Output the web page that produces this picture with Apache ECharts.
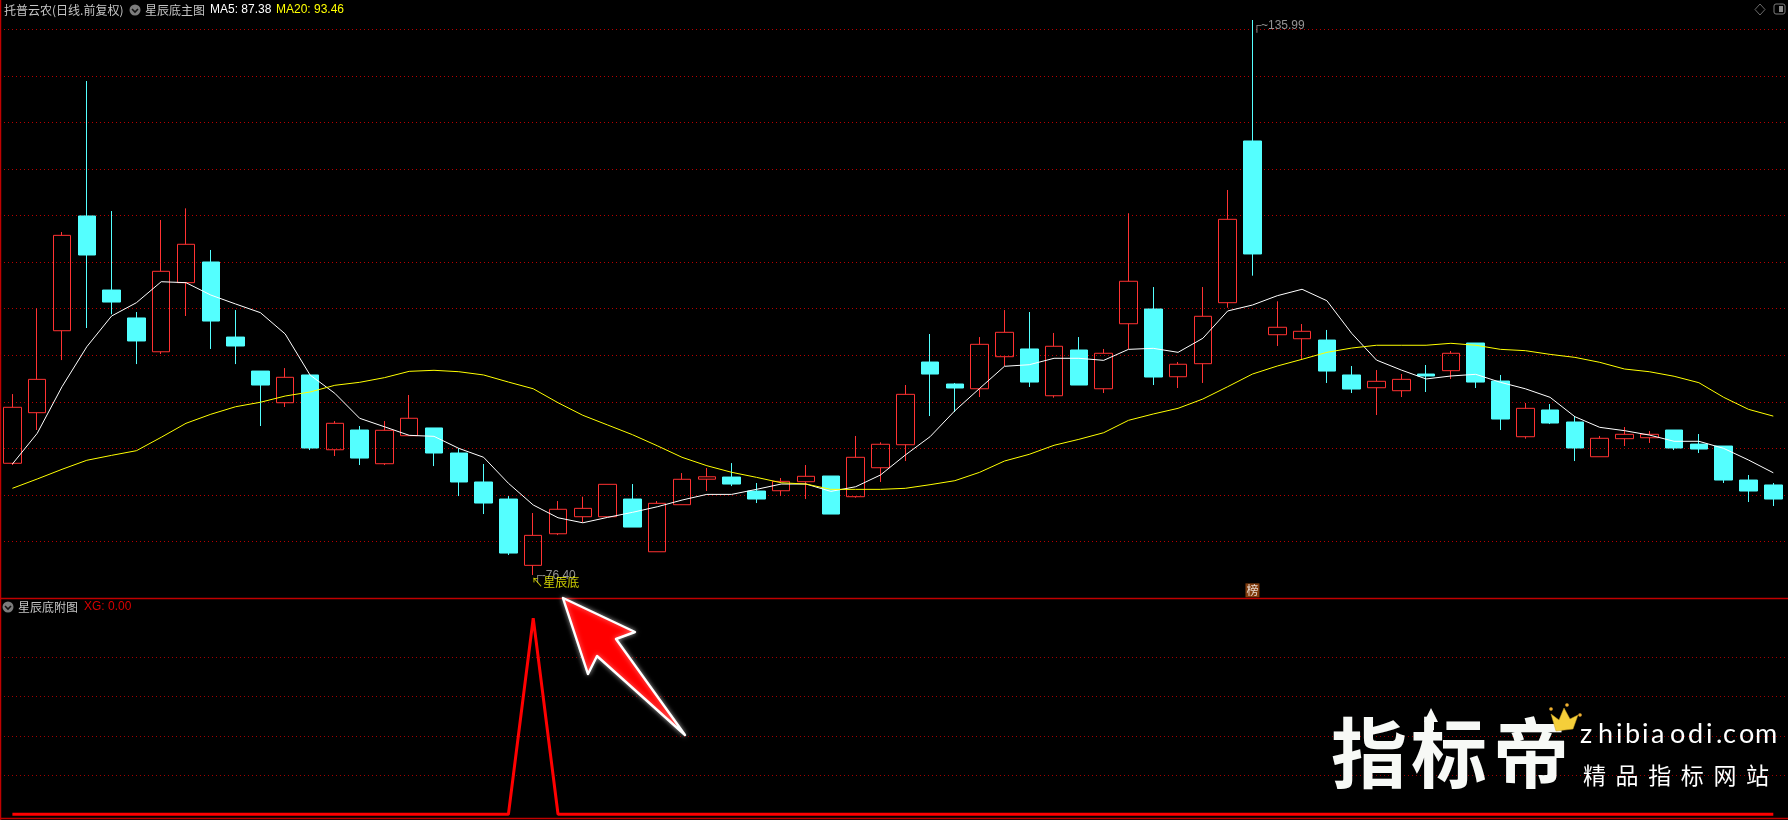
<!DOCTYPE html>
<html><head><meta charset="utf-8">
<script src="https://cdn.jsdelivr.net/npm/echarts@6/dist/echarts.min.js"></script>
<style>html,body{margin:0;padding:0;background:#000;overflow:hidden}#c{width:1788px;height:820px}</style>
</head><body><div id="c"></div>
<script>
const opens=[88.40,93.83,102.63,114.95,107.00,104.00,100.37,107.79,110.01,101.95,
98.30,94.90,97.88,89.85,91.97,88.35,91.36,92.19,89.50,86.39,
84.56,77.44,80.83,82.66,82.66,84.56,78.90,83.95,86.69,86.92,
85.42,85.45,86.42,87.03,84.81,87.92,90.39,99.27,96.91,96.40,
99.84,100.67,95.65,100.56,96.40,103.38,104.96,97.69,99.09,105.64,
123.00,102.20,101.77,101.63,97.88,96.51,96.19,97.98,98.34,101.31,
97.23,91.25,94.12,92.83,89.10,91.04,91.14,91.97,90.46,90.25,
86.60,86.07];
const closes=[94.41,97.41,112.87,110.76,105.71,101.53,109.01,111.91,103.67,100.99,
96.80,97.63,90.04,92.69,88.96,91.94,93.23,89.50,86.39,84.13,
78.76,80.66,83.46,83.56,86.14,81.55,84.10,86.68,86.95,86.17,
84.56,86.46,87.00,82.95,89.04,90.44,95.80,97.98,96.48,101.17,
102.46,97.12,100.96,96.80,100.21,107.94,97.66,99.03,104.18,114.59,
110.87,103.00,102.57,98.30,96.37,97.20,97.41,97.77,100.21,97.12,
93.15,94.30,92.72,90.04,91.08,91.51,91.51,90.04,89.93,86.60,
85.42,84.56];
const highs=[95.83,105.04,113.23,129.44,115.48,104.64,114.52,115.77,111.30,104.85,
98.30,98.62,97.88,92.93,92.40,92.93,95.73,92.19,90.00,88.32,
84.88,83.06,84.35,84.81,86.14,86.17,84.35,87.35,87.89,88.42,
86.28,86.82,88.21,87.03,91.33,90.65,96.80,102.28,97.02,101.95,
104.85,104.64,102.39,101.95,100.67,115.24,107.32,99.27,107.32,117.74,
135.99,105.79,103.35,102.71,98.84,98.41,97.98,98.95,100.45,101.31,
97.88,94.87,94.76,93.47,91.33,92.29,91.86,91.97,91.54,90.25,
87.14,86.28];
const lows=[88.21,91.97,99.48,102.92,104.39,99.05,100.13,104.21,100.67,99.05,
92.40,94.44,89.82,89.18,88.21,88.21,91.36,88.10,84.88,82.95,
78.55,76.40,80.69,82.06,82.66,81.55,78.90,83.95,85.42,85.95,
84.13,84.88,84.56,82.95,84.70,86.39,88.64,93.47,93.90,95.51,
98.84,96.59,95.44,96.80,95.94,100.67,96.80,96.48,97.02,105.10,
108.54,100.99,99.56,97.02,95.94,93.58,95.51,96.05,97.45,96.48,
91.97,91.04,92.61,88.64,89.10,90.25,90.58,89.82,89.50,86.28,
84.24,83.81];
const ma5=[88.32,91.61,96.62,100.91,104.21,105.64,107.89,107.79,106.46,105.50,
104.57,102.28,97.88,95.91,93.23,92.32,91.40,91.29,90.00,89.04,
86.25,83.92,82.55,82.01,82.59,83.13,83.73,84.45,85.06,85.06,
85.60,86.17,86.17,85.38,85.88,87.14,89.28,91.25,94.04,96.44,
98.81,98.98,99.67,99.67,99.45,100.63,100.74,100.31,101.82,104.75,
105.39,106.39,107.08,105.85,102.35,99.48,98.41,97.45,97.77,97.95,
97.09,96.40,95.48,93.40,92.26,91.90,91.43,90.76,90.76,90.00,
88.75,87.38];
const ma20=[85.71,86.71,87.75,88.72,89.25,89.75,91.19,92.69,93.66,94.47,
94.95,95.62,96.05,96.77,97.09,97.59,98.27,98.38,98.23,97.88,
97.12,96.40,94.90,93.55,92.51,91.47,90.28,89.04,88.14,87.43,
86.89,86.31,86.17,85.60,85.60,85.60,85.71,86.10,86.53,87.43,
88.64,89.36,90.33,90.97,91.68,93.01,93.69,94.30,95.30,96.62,
97.98,98.84,99.56,100.31,100.77,101.07,101.07,101.07,101.28,101.07,
100.63,100.49,100.09,99.77,99.24,98.52,98.23,97.74,97.05,95.48,
94.19,93.46];
const xg=[0,0,0,0,0,0,0,0,0,0,0,0,0,0,0,0,0,0,0,0,0,1,0,0,0,0,0,0,0,0,0,0,0,0,0,0,
0,0,0,0,0,0,0,0,0,0,0,0,0,0,0,0,0,0,0,0,0,0,0,0,0,0,0,0,0,0,0,0,0,0,0,0];
const days=opens.map((_,i)=>'D'+(i+1));
const maxPoint=[50,135.99], minPoint=[21,76.40];
const titleMain='托普云农(日线.前复权)', titleInd='星辰底主图', titleMA5='MA5: 87.38', titleMA20='MA20: 93.46';
const titleSub='星辰底附图', titleXG='XG: 0.00';

const CJK='"Noto Sans CJK SC"', LAT='"Liberation Sans"';
const RED='#ff3232', CYAN='#54ffff', FRAME='#c00000';
const gridDots={type:[1,3],color:'#b80000',width:1};
function txt(x,y,text,font,fill,extra){return Object.assign({type:'text',x:x,y:y,z:50,silent:true,
  style:Object.assign({text:text,font:font,fill:fill,textVerticalAlign:'middle'},extra&&extra.style||{})},extra&&extra.el||{});}
function seg(x1,y1,x2,y2,c,w){return {type:'line',z:40,silent:true,shape:{x1,y1,x2,y2},style:{stroke:c,lineWidth:w}};}
function badge(cx,cy){return [
 {type:'circle',z:50,silent:true,shape:{cx:cx,cy:cy,r:5.5},style:{fill:'#7c7c7c'}},
 {type:'polyline',z:51,silent:true,shape:{points:[[cx-3,cy-1],[cx,cy+2],[cx+3,cy-1]]},style:{stroke:'#111',lineWidth:1.6,fill:null}}];}
const glow={shadowBlur:7,shadowColor:'rgba(255,255,255,0.55)'};
const WM='#f7f9f6';
const siteChars='zhibiaodi.com'.split(''), siteX=[1580,1598,1616,1625,1642,1651,1670,1688,1706,1716,1723,1739,1755];
const sloganChars='精品指标网站'.split('');
const graphic=[
 seg(0.5,0,0.5,820,FRAME,1.5), seg(0,598.5,1788,598.5,FRAME,1.5), seg(0,818.5,1788,818.5,FRAME,1.5),
 txt(4,10,titleMain,'12px '+CJK,'#c4c4c4'),
 ...badge(135,10),
 txt(145,10,titleInd,'12px '+CJK,'#c4c4c4'),
 txt(210,10,titleMA5,'12px '+LAT,'#ffffff'),
 txt(276,10,titleMA20,'12px '+LAT,'#ffff00'),
 {type:'polygon',z:50,silent:true,shape:{points:[[1760,4],[1765,9.5],[1760,15],[1755,9.5]]},style:{stroke:'#6a6a6a',fill:null,lineWidth:1}},
 {type:'rect',z:50,silent:true,shape:{x:1774,y:4,width:11,height:10,r:2},style:{stroke:'#7a7a7a',fill:null,lineWidth:1}},
 {type:'rect',z:50,silent:true,shape:{x:1779,y:6,width:4,height:6},style:{fill:'#8a8a8a'}},
 ...badge(8,607),
 txt(18,607,titleSub,'12px '+CJK,'#c4c4c4'),
 txt(84,607,titleXG,'12px '+LAT,'#d80000'),
 {type:'polygon',z:60,silent:true,shape:{points:[[563,598],[635,632],[616,639],[685,735],[597,656],[588,674]]},
  style:{fill:'#ff0000',stroke:'#ffffff',lineWidth:2.4,lineJoin:'round',shadowBlur:5,shadowColor:'rgba(255,255,255,0.5)'}},
 txt(1331,753,'指','700 76px '+CJK,WM,{style:glow}),
 txt(1411,753,'标','700 76px '+CJK,WM,{style:glow}),
 txt(1493,753,'帝','700 76px '+CJK,WM,{style:glow}),
 {type:'polygon',z:60,silent:true,shape:{points:[[1431,708],[1438,722],[1434,722],[1434,730],[1428,730],[1428,722],[1424,722]]},style:{fill:WM}},
 {type:'polygon',z:61,silent:true,shape:{points:[[1551,714],[1559,720],[1564,708],[1570,719],[1578,715],[1573,729],[1556,731]]},style:{fill:'#f5cf3a',stroke:'#caa020',lineWidth:0.5}},
 {type:'circle',z:61,silent:true,shape:{cx:1551,cy:709,r:1.8},style:{fill:'#f0b030'}},
 {type:'circle',z:61,silent:true,shape:{cx:1567,cy:705,r:1.8},style:{fill:'#f0b030'}},
 {type:'circle',z:61,silent:true,shape:{cx:1580,cy:715,r:1.8},style:{fill:'#f0b030'}},
 ...siteChars.map((c,i)=>txt(siteX[i],734,c,'27px Lato','#ffffff',{style:glow})),
 ...sloganChars.map((c,i)=>txt(1583+i*32.6,775,c,'23px '+CJK,'#ffffff',{style:glow}))
];

const option={
 backgroundColor:'#000',animation:false,graphic:graphic,
 grid:[{left:-1.3,width:1787,top:1.28,height:586.8},{left:-1.3,width:1787,top:618.3,height:196}],
 xAxis:[{type:'category',gridIndex:0,data:days,show:false,boundaryGap:true},
        {type:'category',gridIndex:1,data:days,show:false,boundaryGap:true}],
 yAxis:[{type:'value',gridIndex:0,min:75,max:138,interval:5,scale:true,
         axisLine:{show:false},axisTick:{show:false},axisLabel:{show:false},
         splitLine:{show:true,showMinLine:false,showMaxLine:false,lineStyle:gridDots}},
        {type:'value',gridIndex:1,min:0,max:1,interval:0.2,
         axisLine:{show:false},axisTick:{show:false},axisLabel:{show:false},
         splitLine:{show:true,showMinLine:false,showMaxLine:false,lineStyle:{type:[1,3],color:'#a00000',width:1}}}],
 series:[
  {type:'candlestick',xAxisIndex:0,yAxisIndex:0,barWidth:18,clip:false,
   data:opens.map((o,i)=>[o,closes[i],lows[i],highs[i]]),
   itemStyle:{color:'transparent',color0:CYAN,borderColor:RED,borderColor0:CYAN,borderWidth:1}},
  {type:'line',xAxisIndex:0,yAxisIndex:0,data:ma5,showSymbol:false,lineStyle:{color:'#ffffff',width:1}},
  {type:'line',xAxisIndex:0,yAxisIndex:0,data:ma20,showSymbol:false,lineStyle:{color:'#ffff00',width:1}},
  {type:'scatter',xAxisIndex:0,yAxisIndex:0,symbolSize:0,data:[maxPoint],clip:false,
   label:{show:true,position:'right',distance:0,offset:[0,5.5],formatter:'┌~135.99',color:'#b8b8b8',fontFamily:LAT,fontSize:12}},
  {type:'scatter',xAxisIndex:0,yAxisIndex:0,symbolSize:0,data:[minPoint],clip:false,
   label:{show:true,position:'right',distance:0,offset:[0,1],formatter:'┌-76.40',color:'#b8b8b8',fontFamily:LAT,fontSize:12}},
  {type:'scatter',xAxisIndex:0,yAxisIndex:0,symbolSize:0,data:[minPoint],clip:false,
   label:{show:true,position:'right',distance:0,offset:[-2,7],formatter:'↖星辰底',color:'#ffff00',fontFamily:CJK,fontSize:12}},
  {type:'scatter',xAxisIndex:0,yAxisIndex:0,symbolSize:0,data:[[maxPoint[0],75.4]],clip:false,
   label:{show:true,position:'inside',offset:[0,6],formatter:'榜',color:'#ffffff',backgroundColor:'#a04a10',
          padding:[1,1],fontFamily:CJK,fontSize:12,lineHeight:12}},
  {type:'line',xAxisIndex:1,yAxisIndex:1,data:xg,showSymbol:false,clip:false,lineStyle:{color:'#ff0000',width:3}}
 ]
};
echarts.init(document.getElementById('c'),null,{renderer:'canvas'}).setOption(option);
</script></body></html>
